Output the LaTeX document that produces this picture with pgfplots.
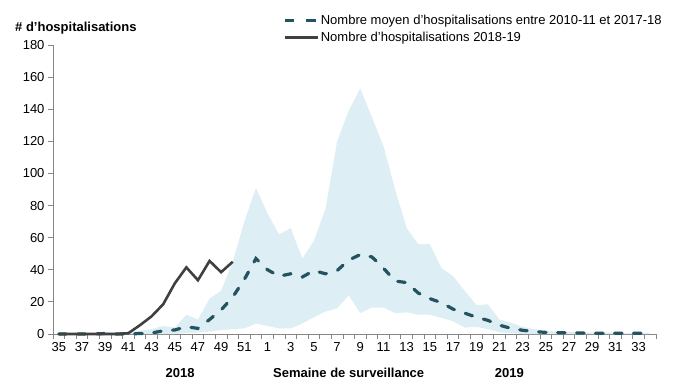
\documentclass[border=0pt]{standalone}
\usepackage{fontspec}
\setmainfont{Liberation Sans}
\usepackage{pgfplots}
\usepackage{pgfplotstable}
\usepgfplotslibrary{fillbetween}
\pgfplotsset{compat=1.18}
\definecolor{bandc}{HTML}{DDEEF5}
\definecolor{meanc}{HTML}{23535F}
\definecolor{curc}{HTML}{404040}
\definecolor{axc}{HTML}{868686}

% x index: 0 = week 35 (2018) ... 17 = week 52, 18 = week 1 (2019) ... 51 = week 34
\pgfplotstableread{
x up lo mean
0 0.5 0 0
1 0.5 0 0
2 0.5 0 0
3 0.5 0 0
4 1.5 0 0.3
5 0.5 0 0
6 1 0 0
7 2 0 0.3
8 3 0 0.6
9 5 0 2
10 4 0 2.5
11 12 0.5 4.5
12 9 1 3.5
13 22 1.5 9
14 27 2.5 15
15 45 3 23
16 70 3.5 34
17 91 6.5 47
18 75 5 40
19 62 3.5 36
20 66 3.5 37.5
21 47 6.5 35.5
22 58 10.5 39.5
23 78 14 37.5
24 120 16 39.5
25 139 24 46
26 153 13 49.5
27 135 16.5 48
28 117 16.5 41
29 90 13 33
30 66 13.5 32
31 56 12 25.5
32 56 12 22
33 41 10 19.5
34 36 8 15.5
35 27 4 13
36 18 4.5 10.5
37 18.5 3 8.5
38 9 1 5.5
39 7 0.5 3.5
40 4.5 0 2.3
41 3 0 1.5
42 2 0 1
43 1.5 0 0.8
44 1.5 0 0.8
45 1 0 0.6
46 1 0 0.5
47 1 0 0.4
48 1 0 0.5
49 0.5 0 0.4
50 0.5 0 0.5
51 0.5 0 0.3
}\hist

\pgfplotstableread{
x y
0 0
1 0
2 0
3 0
4 0
5 0
6 0.5
7 5.5
8 11
9 18.5
10 31.5
11 41.5
12 33.5
13 45.5
14 38.5
15 45
}\cur

\begin{document}
\begin{tikzpicture}[font=\fontsize{13bp}{15.6bp}\selectfont]
\begin{axis}[
  at={(0,0)}, anchor=south west, scale only axis,
  width=603bp, height=289bp,
  xmin=-0.5, xmax=51.5, ymin=0, ymax=180,
  clip=false,
  axis x line=bottom, axis y line=left,
  axis line style={-, draw=axc, line width=0.8bp},
  tick align=outside,
  major tick length=5bp, minor tick length=5bp,
  xtick={0,2,...,50},
  xticklabels={35,37,39,41,43,45,47,49,51,1,3,5,7,9,11,13,15,17,19,21,23,25,27,29,31,33},
  minor xtick={-0.5,0.5,...,51.5},
  major x tick style={draw=none},
  minor x tick style={draw=axc, line width=0.8bp},
  ytick={0,20,...,180},
  y tick style={draw=axc, line width=0.8bp},
  tick label style={font=\fontsize{13bp}{15.6bp}\selectfont, text=black},
  /pgf/number format/assume math mode=true,
  legend style={draw=none, fill=none, at={(0.381,1.107)}, anchor=north west,
    font=\fontsize{13bp}{15.6bp}\selectfont, inner sep=0pt, row sep=4bp,
    nodes={inner xsep=2bp, inner ysep=1bp}},
  legend cell align=left,
  legend image code/.code={\draw[#1] (0bp,0bp) -- (33bp,0bp);},
]
\addplot[name path=up, draw=none, forget plot] table[x=x, y=up] {\hist};
\addplot[name path=lo, draw=none, forget plot] table[x=x, y=lo] {\hist};
\addplot[fill=bandc, draw=none, forget plot] fill between[of=up and lo];
\addplot[meanc, line width=3.2bp, line cap=round, dash pattern=on 7.5bp off 11.5bp,
  legend image code/.code={\draw[meanc, line width=3.2bp, line cap=butt, dash pattern=on 9.5bp off 12bp] (0bp,0bp) -- (31.5bp,0bp);}]
  table[x=x, y=mean] {\hist};
\addlegendentry{Nombre moyen d'hospitalisations entre 2010-11 et 2017-18}
\addplot[curc, line width=2.6bp] table[x=x, y=y] {\cur};
\addlegendentry{Nombre d'hospitalisations 2018-19}
\node[anchor=base west, inner sep=0pt, font=\bfseries\fontsize{13bp}{15.6bp}\selectfont] at ([xshift=-38bp, yshift=13bp]rel axis cs:0,1) {\# d'hospitalisations};
\node[font=\bfseries\fontsize{13bp}{15.6bp}\selectfont, inner sep=0pt] at ([yshift=-39bp]axis cs:10.46,0) {2018};
\node[font=\bfseries\fontsize{13bp}{15.6bp}\selectfont, inner sep=0pt] at ([yshift=-39bp]axis cs:25,0) {Semaine de surveillance};
\node[font=\bfseries\fontsize{13bp}{15.6bp}\selectfont, inner sep=0pt] at ([yshift=-39bp]axis cs:38.85,0) {2019};
\end{axis}
\pgfresetboundingbox
\path[use as bounding box] (-53bp,-58bp) rectangle (641bp,334bp);
\end{tikzpicture}
\end{document}
